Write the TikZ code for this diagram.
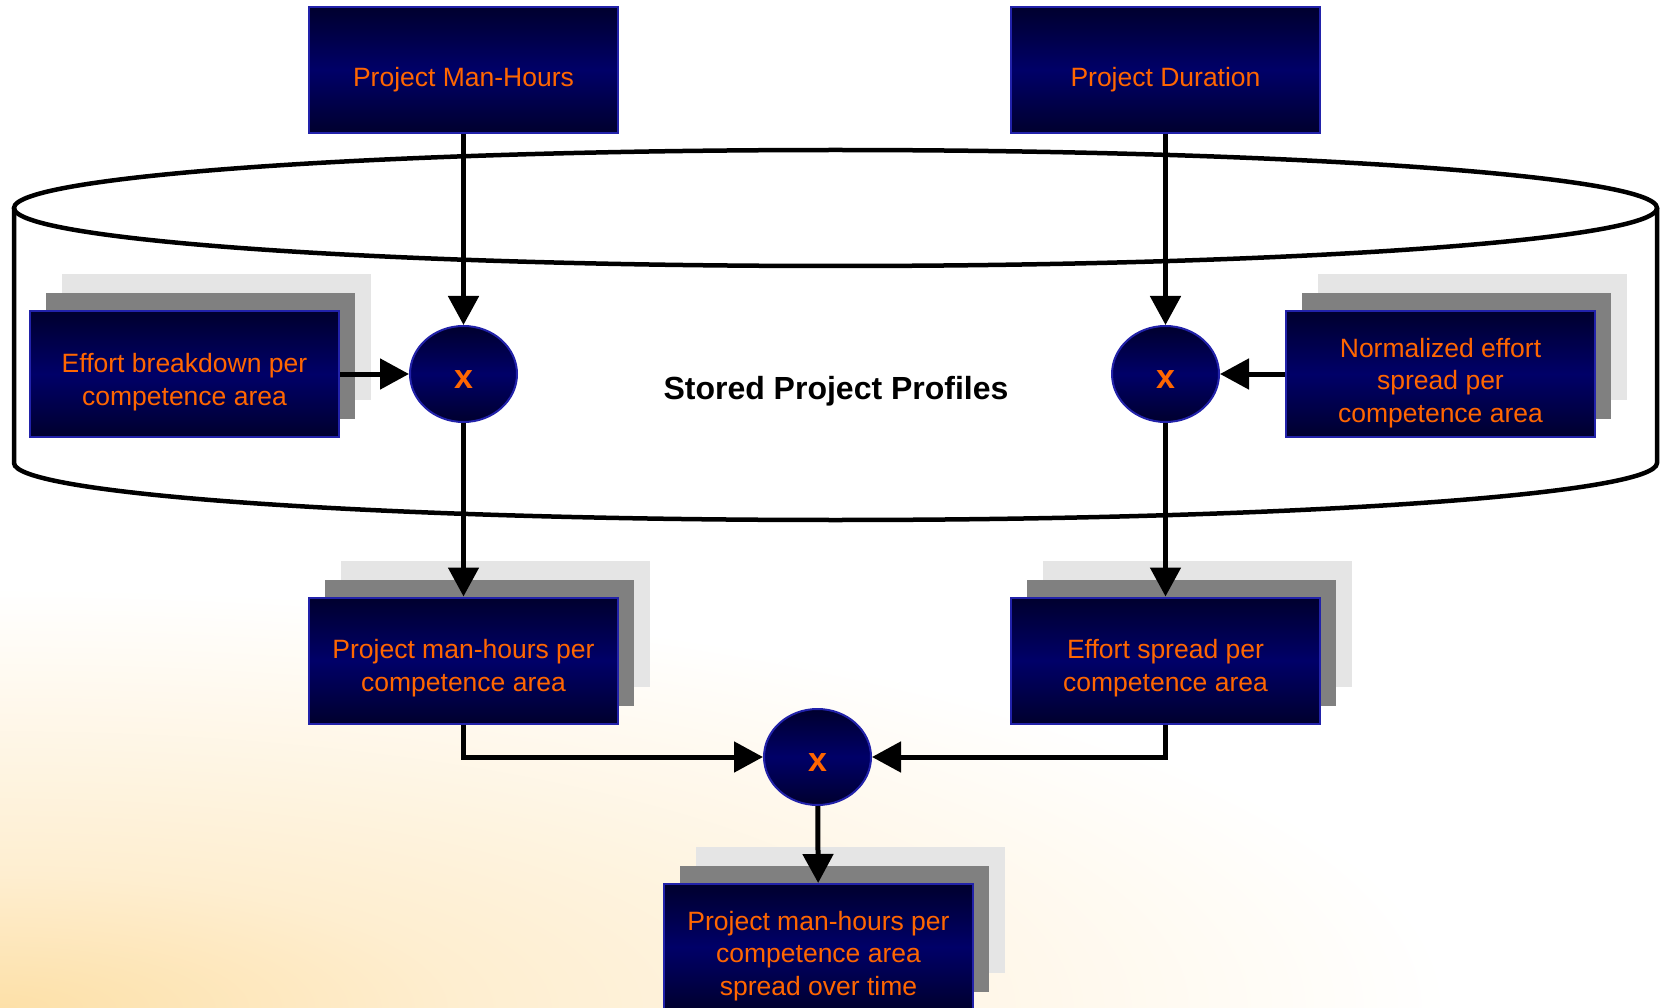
\documentclass[tikz,border=0pt]{standalone}
\usepackage{fontspec}
\setmainfont{Liberation Sans}
\usetikzlibrary{arrows.meta,shapes.geometric,shadows}

\definecolor{navydark}{RGB}{0,0,46}
\definecolor{navymid}{RGB}{0,0,104}
\definecolor{navyedge}{RGB}{34,34,170}
\definecolor{flowtext}{RGB}{255,102,0}
\definecolor{stackmid}{RGB}{128,128,128}
\definecolor{stackback}{RGB}{229,229,229}
\definecolor{glowcore}{RGB}{253,224,168}
\definecolor{glowmid}{RGB}{254,238,208}

% warm corner glow of the backdrop (the 25bp ring meets the path outline)
\pgfdeclareradialshading{warmglow}{\pgfpoint{0bp}{0bp}}%
  {color(0bp)=(glowcore); color(8bp)=(glowmid); color(25bp)=(white); color(50bp)=(white)}

\begin{document}
\begin{tikzpicture}[x=1pt,y=-1pt,
  panel/.style={draw=navyedge, line width=2pt,
    top color=navydark, bottom color=navydark, middle color=navymid,
    minimum width=309pt, minimum height=126pt, inner sep=0pt},
  stacked/.style={panel,
    copy shadow={shadow xshift=32pt, shadow yshift=37pt, fill=stackback, draw=none},
    copy shadow={shadow xshift=16pt, shadow yshift=18pt, fill=stackmid, draw=none}},
  mult/.style={ellipse, draw=navyedge, line width=2pt,
    top color=navydark, bottom color=navydark, middle color=navymid,
    minimum width=107pt, minimum height=96pt, inner sep=0pt},
  paneltext/.style={text=flowtext, align=center, inner sep=0pt,
    font=\fontsize{26.5}{32.8}\selectfont},
  multtext/.style={text=flowtext, inner sep=0pt,
    font=\bfseries\fontsize{34}{40}\selectfont},
  vessel/.style={line width=4.5pt, draw=black},
  flow/.style={line width=5pt, draw=black, -{Triangle[length=29pt,width=30pt]}}
]
\useasboundingbox (0,0) rectangle (1660,1008);

% backdrop
\fill[white] (0,0) rectangle (1660,1008);
\begin{scope}
  \clip (0,0) rectangle (1660,1008);
  \shade[shading=warmglow] (0,1008) ellipse [x radius=1450, y radius=420];
\end{scope}

% the store: a flat cylinder
\draw[vessel] (835.5,208) ellipse [x radius=821.5, y radius=58];
\draw[vessel] (14,208) -- (14,463)
  arc[start angle=180, end angle=0, x radius=821.5, y radius=57] -- (1657,208);
\node[font=\bfseries\fontsize{32}{38}\selectfont] (store) at (836,391) {Stored Project Profiles};

% inputs
\node[panel] (pmh) at (463.5,70) {};
\node[paneltext] (pmh-t) at ([yshift=-10pt]pmh.center) {Project Man-Hours};
\node[panel] (pd) at (1165.5,70) {};
\node[paneltext] (pd-t) at ([yshift=-10pt]pd.center) {Project Duration};

% stored profiles
\node[stacked] (eb) at (184.5,374) {};
\node[paneltext] (eb-t) at ([yshift=-8pt]eb.center) {Effort breakdown per\\competence area};
\node[stacked] (ne) at (1440.5,374) {};
\node[paneltext] (ne-t) at ([yshift=-9pt]ne.center) {Normalized effort\\spread per\\competence area};

% multiplications
\node[mult] (m1) at (463.5,374) {};
\node[multtext] (m1-t) at ([yshift=-6pt]m1.center) {x};
\node[mult] (m2) at (1165.5,374) {};
\node[multtext] (m2-t) at ([yshift=-6pt]m2.center) {x};
\node[mult] (m3) at (817.5,757) {};
\node[multtext] (m3-t) at ([yshift=-6pt]m3.center) {x};

% intermediate results
\node[stacked] (pmhca) at (463.5,660.5) {};
\node[paneltext] (pmhca-t) at ([yshift=-8pt]pmhca.center) {Project man-hours per\\competence area};
\node[stacked] (esca) at (1165.5,660.5) {};
\node[paneltext] (esca-t) at ([yshift=-8pt]esca.center) {Effort spread per\\competence area};

% final result
\node[stacked] (out) at (818.5,947) {};
\node[paneltext] (out-t) at ([yshift=-9pt]out.center) {Project man-hours per\\competence area\\spread over time};

% connectors
\draw[flow] (pmh) -- (m1);
\draw[flow] (eb.east) -- (m1.west);
\draw[flow] (pd) -- (m2);
\draw[flow] (ne.west) -- (m2.east);
\draw[flow] (m1) -- (pmhca);
\draw[flow] (m2) -- (esca);
\draw[flow] (pmhca.south) |- (m3.west);
\draw[flow] (esca.south) |- (m3.east);
\draw[flow] (m3) -- (out);
\end{tikzpicture}
\end{document}
